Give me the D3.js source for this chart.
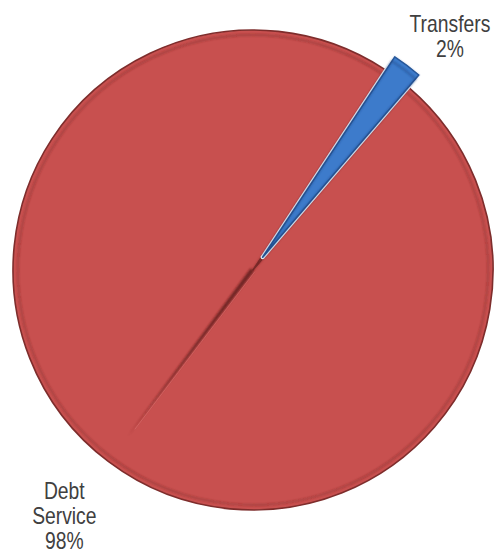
<!DOCTYPE html>
<html>
<head>
<meta charset="utf-8">
<script src="https://cdn.jsdelivr.net/npm/d3@7"></script>
<style>
  html, body { margin: 0; padding: 0; background: #ffffff; }
  svg { display: block; }
  .lbl { font-family: "Liberation Sans", Arial, sans-serif; font-size: 23px; fill: #404040; }
</style>
</head>
<body>
<svg id="chart" width="504" height="557"></svg>
<script>
// Spending split
const categories = ["Debt Service", "Transfers"];
const values = [98, 2];
const labelLines = [["Debt", "Service", "98%"], ["Transfers", "2%"]];
const fills = ["#c8504f", "#3d7bcb"];
const edges = ["#7e2d2c", "#27589a"];

const width = 504, height = 557;
const cx = 253, cy = 270, radius = 240;
const explode = 16;          // offset of the pulled-out slice
const startDeg = 40.6;       // rotation of the first slice, clockwise from 12 o'clock
const narrow = 0.84;         // condensed lettering for the labels
const rad = d => d * Math.PI / 180;

const svg = d3.select("#chart");
const defs = svg.append("defs");
defs.append("filter").attr("id", "soft")
  .append("feGaussianBlur").attr("stdDeviation", 1.2);

const pie = d3.pie().sort(null).value(d => d.value)
  .startAngle(rad(startDeg)).endAngle(rad(startDeg + 360));
const data = categories.map((c, i) => ({ name: c, value: values[i], i }));
const arcs = pie(data);

const arc = d3.arc().innerRadius(0).outerRadius(radius);
const innerRim = d3.arc().innerRadius(0).outerRadius(radius - 5);
const midAngle = a => (a.startAngle + a.endAngle) / 2;
const offset = (a, r) => [Math.sin(midAngle(a)) * r, -Math.cos(midAngle(a)) * r];

const g = svg.append("g").attr("transform", `translate(${cx},${cy})`);

const slices = g.selectAll("g.slice").data(arcs).join("g")
  .attr("class", "slice")
  .attr("transform", a => a.data.i === 1 ? `translate(${offset(a, explode)})` : null);

// white halo around the pulled-out slice
slices.filter(a => a.data.i === 1).append("path")
  .attr("d", arc)
  .attr("fill", "none")
  .attr("stroke", "#f4f6fa")
  .attr("stroke-width", 4)
  .attr("stroke-linejoin", "round");

slices.append("path")
  .attr("d", arc)
  .attr("fill", a => fills[a.data.i])
  .attr("stroke", a => edges[a.data.i])
  .attr("stroke-width", 1.6)
  .attr("stroke-linejoin", "round");

// bevel line just inside each rim
slices.append("path")
  .attr("d", innerRim)
  .attr("fill", "none")
  .attr("stroke", a => a.data.i === 0 ? "rgba(110,35,34,0.5)" : "rgba(30,70,130,0.6)")
  .attr("stroke-width", a => a.data.i === 0 ? 1.4 : 1.6)
  .attr("filter", "url(#soft)");

// fold shading along the middle of the large slice
const big = arcs[0];
const foldLen = radius * 0.87;
const m = midAngle(big);
const ux = Math.sin(m), uy = -Math.cos(m);
const px = -uy, py = ux;
const fold = d3.path();
fold.moveTo(px * 3, py * 3);
fold.lineTo(ux * foldLen, uy * foldLen);
fold.lineTo(-px * 1.5, -py * 1.5);
fold.closePath();
g.append("path").attr("d", fold.toString())
  .attr("fill", "#5e1b1a").attr("opacity", 0.85).attr("filter", "url(#soft)");
const hl = d3.path();
hl.moveTo(-px * 2.5, -py * 2.5);
hl.lineTo(ux * foldLen * 0.95 - px * 1.5, uy * foldLen * 0.95 - py * 1.5);
g.append("path").attr("d", hl.toString())
  .attr("stroke", "#da716f").attr("stroke-width", 1).attr("fill", "none").attr("opacity", 0.6);

// outside-end labels: the label box corner nearest the pie sits on the slice's mid line
const labelRadius = 260;
const lineH = 25;
arcs.forEach(a => {
  const lines = labelLines[a.data.i];
  const [ax, ay] = offset(a, labelRadius);
  const holder = g.append("g");
  const t = holder.append("text").attr("class", "lbl").attr("text-anchor", "middle");
  lines.forEach((s, k) => t.append("tspan").attr("x", 0).attr("dy", k === 0 ? 0 : lineH).text(s));
  const bb = t.node().getBBox();
  const right = Math.sin(midAngle(a)) >= 0;
  const below = -Math.cos(midAngle(a)) >= 0;
  const tx = right ? ax - bb.x * narrow : ax - (bb.x + bb.width) * narrow;
  const ty = below ? ay - bb.y : ay - (bb.y + bb.height);
  holder.attr("transform", `translate(${tx},${ty}) scale(${narrow},1)`);
});
</script>
</body>
</html>
